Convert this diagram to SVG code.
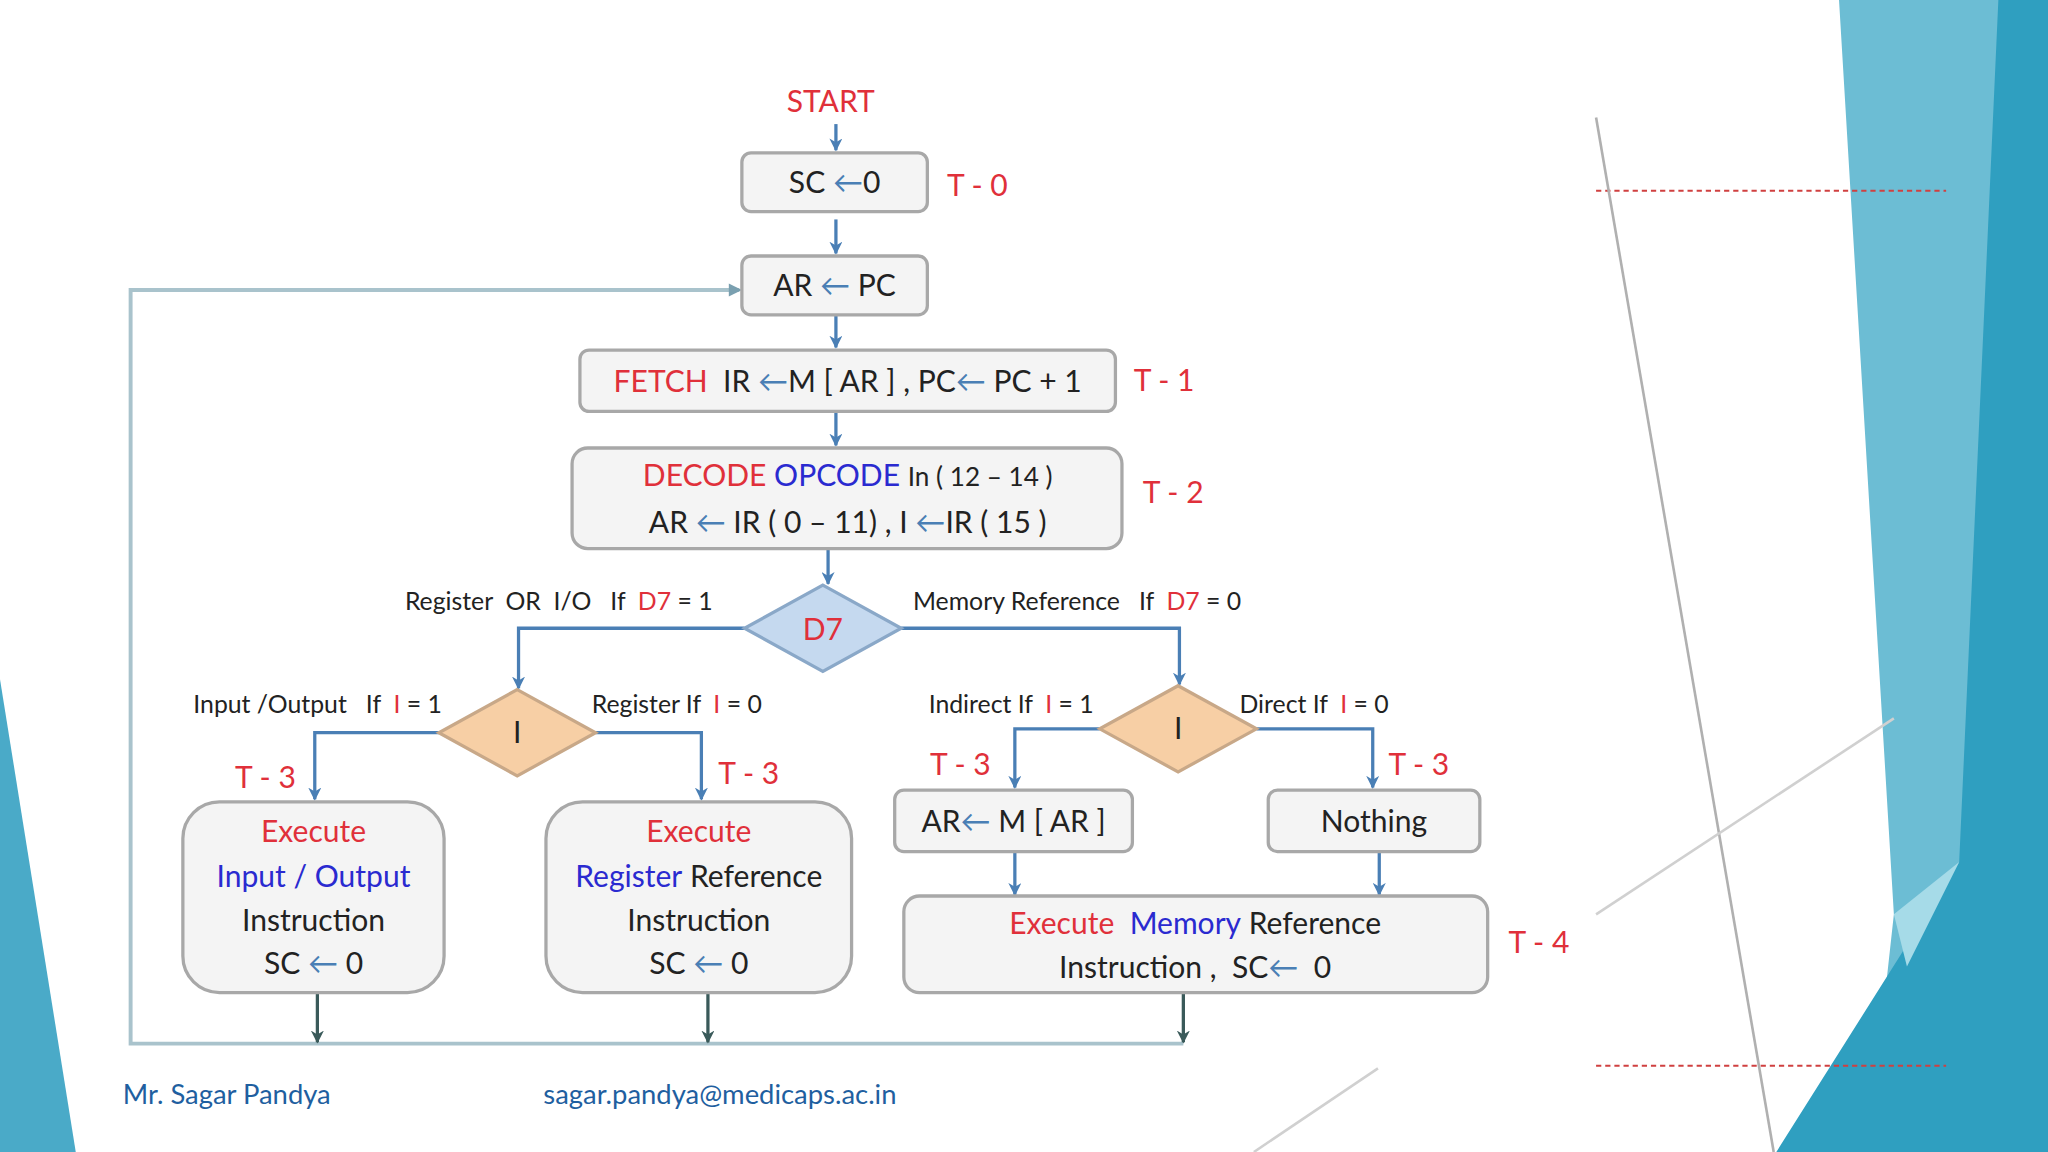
<svg xmlns="http://www.w3.org/2000/svg" width="2048" height="1152" viewBox="0 0 2048 1152">
<defs>
<marker id="ah" markerWidth="10" markerHeight="10" refX="9" refY="5" orient="auto" markerUnits="userSpaceOnUse"><path d="M0,0 L10,5 L0,10 L3,5 Z" fill="#4a7fb5"/></marker>
<marker id="ahd" markerWidth="10" markerHeight="10" refX="9" refY="5" orient="auto" markerUnits="userSpaceOnUse"><path d="M0,0 L10,5 L0,10 L3,5 Z" fill="#3a5a5a"/></marker>
<style>
text{font-family:Lato,"Open Sans","Liberation Sans",sans-serif;fill:#222;white-space:pre;}
.box{fill:#f4f4f4;stroke:#a8a8a8;stroke-width:2.5;}
.t{font-size:23px;text-anchor:middle;}
.lab{font-size:19px;}
.r{fill:#e0303a;}
.b{fill:#2a2ad0;}
.tl{font-size:23px;fill:#e0303a;}
.c{fill:none;stroke:#4a7fb5;stroke-width:2.5;}
.cd{fill:none;stroke:#3a5a5a;stroke-width:2.5;}
.lp{fill:none;stroke:#a9c3cc;stroke-width:3;}
</style>
</defs>
<rect width="2048" height="1152" fill="#ffffff"/>
<g transform="scale(1.30612)">
<polygon points="0,520 58,882 0,882" fill="#4aaac8"/>
<polygon points="1408,0 1568,0 1568,882 1430,882 1450,700" fill="#6cbdd4"/>
<polygon points="1530,0 1568,0 1568,882 1360,882 1500,660" fill="#2f9fc0"/>
<polygon points="1450,700 1500,660 1460,740" fill="#a6dbe8"/>
<line x1="1222" y1="146" x2="1490" y2="146" stroke="#d04040" stroke-width="1.5" stroke-dasharray="4,3"/>
<line x1="1222" y1="816" x2="1490" y2="816" stroke="#d04040" stroke-width="1.5" stroke-dasharray="4,3"/>
<line x1="1222" y1="90" x2="1358" y2="882" stroke="#b0b0b0" stroke-width="2"/>
<line x1="1222" y1="700" x2="1450" y2="550" stroke="#d0d0d0" stroke-width="2"/>
<line x1="960" y1="882" x2="1055" y2="818" stroke="#d0d0d0" stroke-width="2"/>

<g id="connectors">
<line class="c" x1="640" y1="95" x2="640" y2="115" marker-end="url(#ah)"/>
<line class="c" x1="640" y1="168" x2="640" y2="194" marker-end="url(#ah)"/>
<line class="c" x1="640" y1="241" x2="640" y2="266" marker-end="url(#ah)"/>
<line class="c" x1="640" y1="315" x2="640" y2="341" marker-end="url(#ah)"/>
<line class="c" x1="634" y1="420" x2="634" y2="447" marker-end="url(#ah)"/>
<polyline class="c" points="570,481 397,481 397,527" marker-end="url(#ah)"/>
<polyline class="c" points="690,481 903,481 903,524" marker-end="url(#ah)"/>
<polyline class="c" points="336,561 241,561 241,612" marker-end="url(#ah)"/>
<polyline class="c" points="456,561 537,561 537,612" marker-end="url(#ah)"/>
<polyline class="c" points="842,558 777,558 777,603" marker-end="url(#ah)"/>
<polyline class="c" points="962,558 1051,558 1051,603" marker-end="url(#ah)"/>
<line class="c" x1="777" y1="652" x2="777" y2="685" marker-end="url(#ah)"/>
<line class="c" x1="1056" y1="652" x2="1056" y2="685" marker-end="url(#ah)"/>
<polyline class="lp" points="906,799 100,799 100,222 566,222"/>
<path d="M558,217 L568,222 L558,227 Z" fill="#7aa0b0"/>
<line class="cd" x1="243" y1="760" x2="243" y2="798" marker-end="url(#ahd)"/>
<line class="cd" x1="542" y1="760" x2="542" y2="798" marker-end="url(#ahd)"/>
<line class="cd" x1="906" y1="760" x2="906" y2="798" marker-end="url(#ahd)"/>
</g>

<g id="start"><text class="tl" x="636" y="86" text-anchor="middle">START</text></g>
<g id="sc0"><rect class="box" x="568" y="117" width="142" height="45" rx="7"/><text class="t" x="639" y="148">SC <tspan fill="#4a7fb5">←</tspan>0</text><text class="tl" x="725" y="150">T - 0</text></g>
<g id="arpc"><rect class="box" x="568" y="196" width="142" height="45" rx="7"/><text class="t" x="639" y="227">AR <tspan fill="#4a7fb5">←</tspan> PC</text></g>
<g id="fetch"><rect class="box" x="444" y="268" width="410" height="47" rx="7"/><text class="t" x="649" y="300"><tspan class="r">FETCH</tspan>  IR <tspan fill="#4a7fb5">←</tspan>M [ AR ] , PC<tspan fill="#4a7fb5">←</tspan> PC + 1</text><text class="tl" x="868" y="299">T - 1</text></g>
<g id="decode"><rect class="box" x="438" y="343" width="421" height="77" rx="12"/><text class="t" x="649" y="372"><tspan class="r">DECODE</tspan> <tspan class="b">OPCODE</tspan> <tspan font-size="20">In ( 12 – 14 )</tspan></text><text class="t" x="649" y="408">AR <tspan fill="#4a7fb5">←</tspan> IR ( 0 – 11) , I <tspan fill="#4a7fb5">←</tspan>IR ( 15 )</text><text class="tl" x="875" y="385">T - 2</text></g>
<g id="d7"><polygon points="630,448 690,481 630,514 570,481" fill="#c5d9ef" stroke="#8aa8c8" stroke-width="2.5"/><text class="t r" x="630" y="490">D7</text>
<text class="lab" x="310" y="467">Register  OR  I/O   If  <tspan class="r">D7</tspan> = 1</text>
<text class="lab" x="699" y="467">Memory Reference   If  <tspan class="r">D7</tspan> = 0</text></g>
<g id="i1"><polygon points="396,528 456,561 396,594 336,561" fill="#f7cfa5" stroke="#c8a888" stroke-width="2.5"/><text class="t" x="396" y="569">I</text>
<text class="lab" x="148" y="546">Input /Output   If  <tspan class="r">I</tspan> = 1</text>
<text class="lab" x="453" y="546">Register If  <tspan class="r">I</tspan> = 0</text>
<text class="tl" x="180" y="603">T - 3</text><text class="tl" x="550" y="600">T - 3</text></g>
<g id="i2"><polygon points="902,525 962,558 902,591 842,558" fill="#f7cfa5" stroke="#c8a888" stroke-width="2.5"/><text class="t" x="902" y="566">I</text>
<text class="lab" x="711" y="546">Indirect If  <tspan class="r">I</tspan> = 1</text>
<text class="lab" x="949" y="546">Direct If  <tspan class="r">I</tspan> = 0</text>
<text class="tl" x="712" y="593">T - 3</text><text class="tl" x="1063" y="593">T - 3</text></g>
<g id="execio"><rect class="box" x="140" y="614" width="200" height="146" rx="28"/><text class="t r" x="240" y="645">Execute</text><text class="t b" x="240" y="679">Input / Output</text><text class="t" x="240" y="713">Instruction</text><text class="t" x="240" y="746">SC <tspan fill="#4a7fb5">←</tspan> 0</text></g>
<g id="execreg"><rect class="box" x="418" y="614" width="234" height="146" rx="28"/><text class="t r" x="535" y="645">Execute</text><text class="t" x="535" y="679"><tspan class="b">Register</tspan> Reference</text><text class="t" x="535" y="713">Instruction</text><text class="t" x="535" y="746">SC <tspan fill="#4a7fb5">←</tspan> 0</text></g>
<g id="armar"><rect class="box" x="685" y="605" width="182" height="47" rx="7"/><text class="t" x="776" y="637">AR<tspan fill="#4a7fb5">←</tspan> M [ AR ]</text></g>
<g id="nothing"><rect class="box" x="971" y="605" width="162" height="47" rx="7"/><text class="t" x="1052" y="637">Nothing</text></g>
<g id="execmem"><rect class="box" x="692" y="686" width="447" height="74" rx="12"/><text class="t" x="915" y="715"><tspan class="r">Execute</tspan>  <tspan class="b">Memory</tspan> Reference</text><text class="t" x="915" y="749">Instruction ,  SC<tspan fill="#4a7fb5">←</tspan>  0</text><text class="tl" x="1155" y="730">T - 4</text></g>
<g id="footer"><text x="94" y="845" font-size="21" style="fill:#1f5fa0">Mr. Sagar Pandya</text><text x="416" y="845" font-size="21" style="fill:#1f5fa0">sagar.pandya@medicaps.ac.in</text></g>
</g>
</svg>
